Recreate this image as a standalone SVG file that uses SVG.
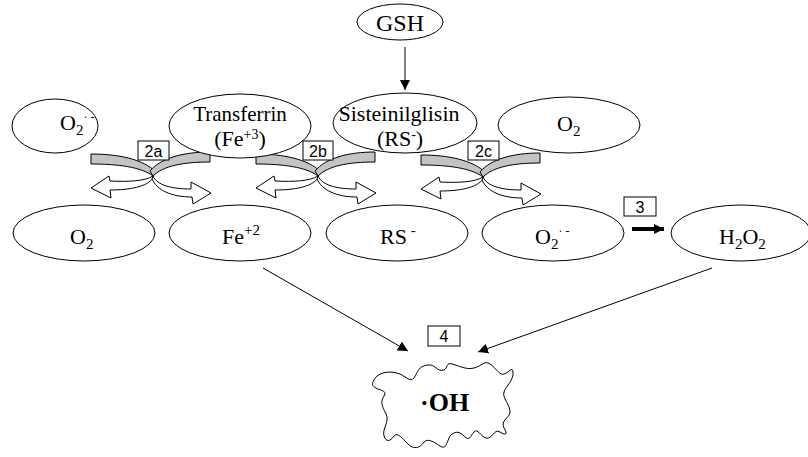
<svg xmlns="http://www.w3.org/2000/svg" width="808" height="457" viewBox="0 0 808 457">
<defs>
<style>
.node{fill:#fff;stroke:#000;stroke-width:1}
.lbl{font-family:"Liberation Serif","Times New Roman",serif;font-size:22px;fill:#000}
.box{fill:#fff;stroke:#000;stroke-width:1}
.num{font-family:"Liberation Sans",Arial,sans-serif;font-size:16px;fill:#000;text-anchor:middle}
.line{stroke:#000;stroke-width:1;fill:none}
.band{fill:#c4c4c4;stroke:#000;stroke-width:1;stroke-linejoin:round}
.warr{fill:#fff;stroke:#000;stroke-width:1;stroke-linejoin:miter}
</style>
<marker id="ah" viewBox="0 0 10 10" refX="10" refY="5" markerWidth="10" markerHeight="10" markerUnits="userSpaceOnUse" orient="auto">
<path d="M0,0 L10,5 L0,10 Z" fill="#000"/>
</marker>
<g id="coupler">
<path class="warr" d="M0,0 C-8,5 -24,6 -43,5 L-44,0 L-62,12 L-42,22 L-43,14 C-24,14 -6,11 0,2 Z"/>
<path class="warr" d="M0,0 C4,9 18,13 38,13 L38,6 L58,17 L40,28 L39,21 C18,21 4,14 -1,3 Z"/>
<path class="band" d="M-62,-22 C-35,-22 -10,-17 3,-4 L0,0 C-12,-9 -35,-12 -62,-12 Z"/>
<path class="band" d="M57,-24 C30,-24 8,-18 -3,-5 L0,0 C10,-10 30,-14 57,-14 Z"/>
</g>
</defs>

<g id="connectors">
<line class="line" x1="405" y1="47" x2="405" y2="90" marker-end="url(#ah)"/>
<line class="line" x1="263" y1="268" x2="408" y2="351" marker-end="url(#ah)"/>
<line class="line" x1="712" y1="268" x2="478" y2="352" marker-end="url(#ah)"/>
<line x1="632" y1="229" x2="664" y2="229" stroke="#000" stroke-width="4" marker-end="url(#ah)"/>
<use href="#coupler" transform="translate(153,176)"/>
<use href="#coupler" transform="translate(318,176)"/>
<use href="#coupler" transform="translate(483,177)"/>
</g>

<g id="n-gsh">
<ellipse class="node" cx="400" cy="22" rx="43" ry="18"/>
<text class="lbl" x="400" y="31" text-anchor="middle" style="font-size:24px">GSH</text>
</g>

<g id="n-o2rad-top">
<ellipse class="node" cx="55" cy="126" rx="43" ry="27"/>
<text class="lbl" x="60" y="130">O<tspan dy="5" font-size="15">2</tspan><tspan dy="-14" font-size="12">· -</tspan></text>
</g>

<g id="n-transferrin">
<ellipse class="node" cx="240" cy="126" rx="71" ry="32"/>
<text class="lbl" x="240" y="121" text-anchor="middle" style="font-size:21px">Transferrin</text>
<text class="lbl" x="240" y="146" text-anchor="middle">(Fe<tspan dy="-7" font-size="14">+3</tspan><tspan dy="7">)</tspan></text>
</g>

<g id="n-sisteinilglisin">
<ellipse class="node" cx="405" cy="123" rx="72" ry="30"/>
<text class="lbl" x="399" y="121" text-anchor="middle">Sisteinilglisin</text>
<text class="lbl" x="400" y="146" text-anchor="middle">(RS<tspan dy="-7" font-size="14">-</tspan><tspan dy="7">)</tspan></text>
</g>

<g id="n-o2-top">
<ellipse class="node" cx="569" cy="125" rx="71" ry="28"/>
<text class="lbl" x="557" y="131">O<tspan dy="5" font-size="15">2</tspan></text>
</g>

<g id="n-o2-bot">
<ellipse class="node" cx="84" cy="233" rx="71" ry="28"/>
<text class="lbl" x="70" y="244">O<tspan dy="5" font-size="15">2</tspan></text>
</g>

<g id="n-fe2">
<ellipse class="node" cx="240" cy="233" rx="71" ry="28"/>
<text class="lbl" x="222" y="244">Fe<tspan dy="-9" font-size="15">+2</tspan></text>
</g>

<g id="n-rs">
<ellipse class="node" cx="397" cy="233" rx="71" ry="28"/>
<text class="lbl" x="380" y="244">RS<tspan dy="-9" font-size="15"> -</tspan></text>
</g>

<g id="n-o2rad-bot">
<ellipse class="node" cx="553" cy="233" rx="71" ry="28"/>
<text class="lbl" x="535" y="244">O<tspan dy="5" font-size="15">2</tspan><tspan dy="-14" font-size="12">· -</tspan></text>
</g>

<g id="n-h2o2">
<ellipse class="node" cx="741" cy="233" rx="70" ry="28"/>
<text class="lbl" x="719" y="244">H<tspan dy="5" font-size="15">2</tspan><tspan dy="-5">O</tspan><tspan dy="5" font-size="15">2</tspan></text>
</g>

<g id="n-oh">
<path class="node" d="M373,382 C376,372 390,370 400,374 C408,378 410,382 414,378 C418,372 418,366 428,365 C436,364 436,372 444,370 C448,368 446,362 452,364 C460,366 466,370 474,368 C482,366 484,360 490,364 C496,368 500,376 504,374 C510,372 512,366 513,372 C514,380 506,386 504,392 C502,398 510,404 510,412 C510,418 500,420 504,428 C508,434 506,436 500,432 C494,428 492,440 486,438 C480,436 478,428 474,432 C470,436 470,442 464,436 C458,430 454,432 450,436 C446,444 446,450 440,446 C434,442 428,438 424,442 C420,448 414,450 408,444 C402,438 398,432 394,436 C390,442 386,442 384,436 C382,428 390,422 386,414 C382,406 380,402 384,396 C388,390 378,390 376,388 C372,386 372,384 373,382 Z"/>
<text class="lbl" x="420" y="411" style="font-size:26px;font-weight:bold">·OH</text>
</g>

<g id="labels">
<rect class="box" x="138" y="141" width="31" height="19"/><text class="num" x="153.5" y="157">2a</text>
<rect class="box" x="303" y="141" width="30" height="19"/><text class="num" x="318" y="157">2b</text>
<rect class="box" x="468" y="141" width="31" height="19"/><text class="num" x="483.5" y="157">2c</text>
<rect class="box" x="624" y="197" width="32" height="19"/><text class="num" x="640" y="213">3</text>
<rect class="box" x="428" y="326" width="32" height="20"/><text class="num" x="444" y="342">4</text>
</g>
</svg>
